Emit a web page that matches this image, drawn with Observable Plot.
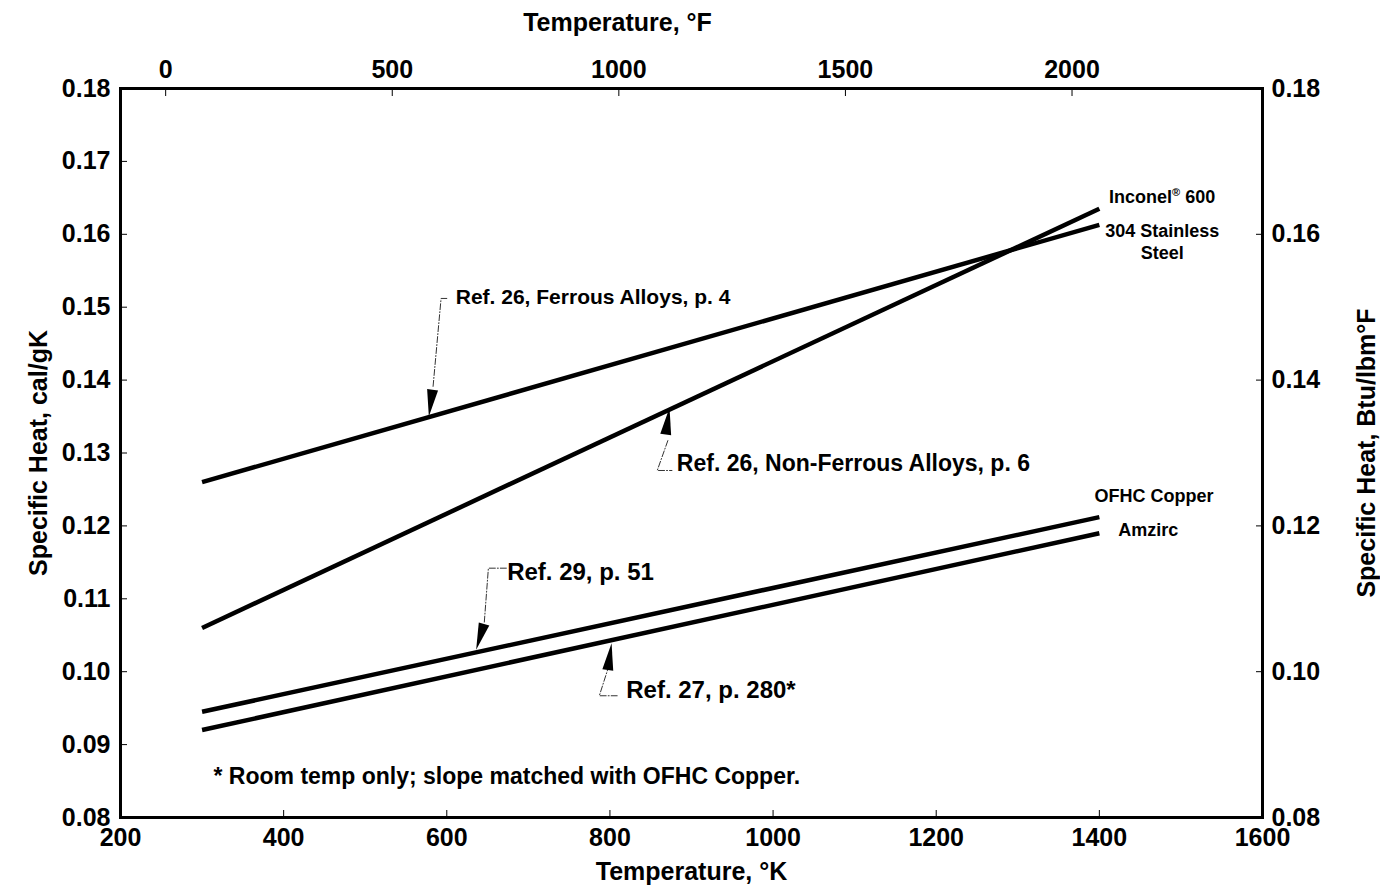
<!DOCTYPE html>
<html><head><meta charset="utf-8">
<script src="https://cdn.jsdelivr.net/npm/d3@7"></script>
<script src="https://cdn.jsdelivr.net/npm/@observablehq/plot@0.6"></script>
<style>body{margin:0;background:#fff}</style>
</head><body><div id="chart"></div>
<script>
// ---- Data ----
const tempK = [300, 1400];
const ss304 = [0.126, 0.1613];
const inconel600 = [0.106, 0.1635];
const ofhcCopper = [0.0945, 0.1212];
const amzirc = [0.092, 0.119];

// ---- Tick values ----
const kTicks = [200, 400, 600, 800, 1000, 1200, 1400, 1600];
const fTicks = [0, 500, 1000, 1500, 2000];
const leftTicks = [0.08, 0.09, 0.10, 0.11, 0.12, 0.13, 0.14, 0.15, 0.16, 0.17, 0.18];
const rightTicks = [0.08, 0.10, 0.12, 0.14, 0.16, 0.18];

// ---- Series end labels ----
const seriesLabels = ["Inconel® 600", "304 Stainless\nSteel", "OFHC Copper", "Amzirc"];
const seriesLabelK = [1477, 1477, 1467, 1460];
const seriesLabelV = [0.1653, 0.1591, 0.1243, 0.1196];

// ---- Reference annotations ----
const refTexts = ["Ref. 26, Ferrous Alloys, p. 4", "Ref. 26, Non-Ferrous Alloys, p. 6", "Ref. 29, p. 51", "Ref. 27, p. 280*"];
const refTextK = [611, 882, 674, 820];
const refTextV = [0.1513, 0.1286, 0.1136, 0.0974];
// arrow tips (on the curves) and arrow directions (deg, clockwise from up)
const arrowK = [578, 873, 636, 802];
const arrowV = [0.1350, 0.1362, 0.1030, 0.1039];
const arrowAngle = [188, 8, 197, 8];
// leader polylines (dashed), one list per annotation
const leaderK = [[600, 593, 583], [871, 858, 876], [673, 651, 646], [799, 787, 810]];
const leaderV = [[0.1512, 0.1512, 0.1389], [0.1317, 0.1276, 0.1276], [0.1142, 0.1142, 0.1068], [0.1009, 0.0967, 0.0967]];

const footnote = "* Room temp only; slope matched with OFHC Copper.";
const footK = 314, footV = 0.0856;

const titleTop = "Temperature, °F";
const titleBottom = "Temperature, °K";
const titleLeft = "Specific Heat, cal/gK";
const titleRight = "Specific Heat, Btu/lbm°F";

// ---- Styles (kept apart from the data) ----
const refFontSizes = [21, 23, 24, 24];

// ---- Build tables ----
const seriesNames = ["304 Stainless Steel", "Inconel 600", "OFHC Copper", "Amzirc"];
const seriesVals = [ss304, inconel600, ofhcCopper, amzirc];
const rows = [];
seriesNames.forEach((s, j) => tempK.forEach((k, i) => rows.push({series: s, k, v: seriesVals[j][i]})));

const labelRows = seriesLabels.map((t, i) => ({t, k: seriesLabelK[i], v: seriesLabelV[i]}));
const refRows = refTexts.map((t, i) => ({t, k: refTextK[i], v: refTextV[i], i}));
const arrowRows = arrowK.map((k, i) => ({k, v: arrowV[i], a: arrowAngle[i]}));
const leaderRows = [];
leaderK.forEach((ks, j) => ks.forEach((k, i) => leaderRows.push({id: j, k, v: leaderV[j][i]})));

const fToK = f => (f - 32) * 5 / 9 + 273.15;
const kToF = k => (k - 273.15) * 9 / 5 + 32;

const headShape = {
  draw(ctx, l) { ctx.moveTo(0, -l); ctx.lineTo(-5.5, 0); ctx.lineTo(5.5, 0); ctx.closePath(); }
};

const FS = 25;
const chart = Plot.plot({
  width: 1380, height: 896,
  marginLeft: 120, marginRight: 118, marginTop: 88, marginBottom: 79,
  x: {domain: [200, 1600]},
  y: {domain: [0.08, 0.18]},
  style: {fontFamily: "'Liberation Sans', Arial, sans-serif", fontWeight: "bold", color: "black", background: "white"},
  marks: [
    Plot.axisX(kTicks, {anchor: "bottom", tickSize: -7, tickPadding: 18, fontSize: FS, tickFormat: d => String(d),
      label: titleBottom, labelAnchor: "center", labelArrow: "none", labelOffset: 62}),
    Plot.axisX(fTicks.map(fToK), {anchor: "top", tickSize: -7, tickPadding: 18, fontSize: FS,
      tickFormat: k => String(Math.round(kToF(k))), label: null}),
    Plot.text([titleTop], {frameAnchor: "top", dx: -74, dy: -66, text: d => d, fontSize: FS, fontWeight: "bold", lineAnchor: "middle"}),
    Plot.axisY(leftTicks, {anchor: "left", tickSize: -7, tickPadding: 17, fontSize: FS, tickFormat: d3.format(".2f"),
      label: titleLeft, labelAnchor: "center", labelArrow: "none", labelOffset: 91}),
    Plot.axisY(rightTicks, {anchor: "right", tickSize: -7, tickPadding: 16, fontSize: FS, tickFormat: d3.format(".2f"),
      label: titleRight, labelAnchor: "center", labelArrow: "none", labelOffset: 112}),
    Plot.frame({stroke: "black", strokeWidth: 3}),
    Plot.line(rows, {x: "k", y: "v", z: "series", stroke: "black", strokeWidth: 4.5, strokeLinecap: "butt"}),
    Plot.line(leaderRows, {x: "k", y: "v", z: "id", stroke: "#333", strokeWidth: 1, strokeDasharray: "6,2,1,2"}),
    Plot.vector(arrowRows, {x: "k", y: "v", rotate: "a", length: 27, anchor: "end", shape: headShape, fill: "black", stroke: "none"}),
    ...refRows.map(r => Plot.text([r], {x: "k", y: "v", text: "t", textAnchor: "start", fontSize: refFontSizes[r.i], fontWeight: "bold"})),
    Plot.text(labelRows, {x: "k", y: "v", text: "t", textAnchor: "middle", fontSize: 18, fontWeight: "bold", lineHeight: 1.25, lineAnchor: "middle"}),
    Plot.text([footnote], {x: () => footK, y: () => footV, text: d => d, textAnchor: "start", fontSize: 23, fontWeight: "bold"})
  ]
});
// superscript the registered mark
d3.select(chart).selectAll("text").filter(function() {
  return this.childElementCount === 0 && this.textContent === "Inconel® 600";
}).each(function() {
  const t = d3.select(this);
  t.text("Inconel");
  t.append("tspan").attr("font-size", 11).attr("dy", -7).text("®");
  t.append("tspan").attr("dy", 7).text(" 600");
});
document.getElementById("chart").appendChild(chart);
</script>
</body></html>
